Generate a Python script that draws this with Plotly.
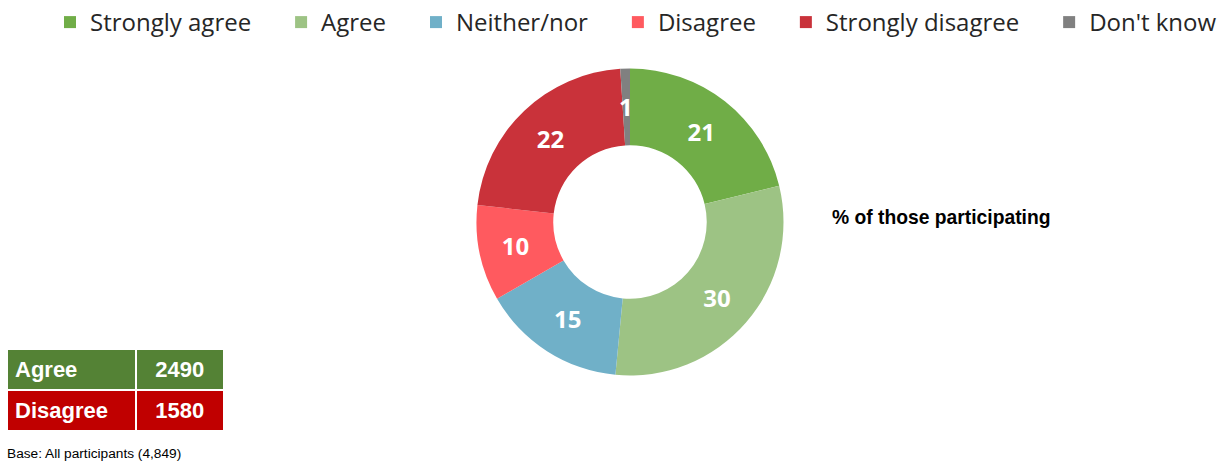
import math
import plotly.graph_objects as go

labels = ["Strongly agree", "Agree", "Neither/nor", "Disagree", "Strongly disagree", "Don't know"]
values = [21, 30, 15, 10, 22, 1]
colors = ["#70AD47", "#9DC384", "#70B0C8", "#FF5A5F", "#C9323A", "#808080"]

table_labels = ["Agree", "Disagree"]
table_values = ["2490", "1580"]
table_colors = ["#548235", "#C00000"]

W, H = 1222, 466
cx, cy, r = 630, 222, 153.5
hole = 0.5
pad = "\u00a0" * 4  # extra spacing between legend entries
legend_labels = [l + pad for l in labels[:-1]] + [labels[-1]]

# slices too thin for plotly to place text well get their label added as an annotation
small = [v < 3 for v in values]
texttemplate = ["" if s else "%{value}" for s in small]

fig = go.Figure()
fig.add_trace(go.Pie(
    labels=legend_labels, values=values,
    marker=dict(colors=colors, line=dict(width=0)),
    hole=hole, sort=False, direction="clockwise", rotation=0,
    texttemplate=texttemplate, textposition="inside", insidetextorientation="horizontal",
    textfont=dict(family="Open Sans", size=24, color="white", weight="bold"),
    domain=dict(x=[(cx - r) / W, (cx + r) / W], y=[(H - cy - r) / H, (H - cy + r) / H]),
    customdata=labels,
    hovertemplate="%{customdata}: %{value}<extra></extra>",
))

total = sum(values)
cum = 0
for v, s in zip(values, small):
    mid = (cum + v / 2) / total * 2 * math.pi
    cum += v
    if s:
        rr = r * (1 + hole) / 2
        fig.add_annotation(text=f"<b>{v}</b>", x=(cx + rr * math.sin(mid)) / W,
                           y=(H - cy + rr * math.cos(mid)) / H, xref="paper", yref="paper",
                           showarrow=False, xanchor="center", yanchor="middle",
                           font=dict(family="Open Sans", size=24, color="white"))

fig.add_trace(go.Table(
    domain=dict(x=[7 / W, 224 / W], y=[(H - 432) / H, (H - 349) / H]),
    columnwidth=[128, 88],
    header=dict(values=["<b>" + table_labels[0] + "</b>", "<b>" + table_values[0] + "</b>"],
                fill_color=table_colors[0], line=dict(color="white", width=2),
                align=["left", "center"], height=40,
                font=dict(family="Liberation Sans, Arial", size=22, color="white")),
    cells=dict(values=[["<b>" + table_labels[1] + "</b>"], ["<b>" + table_values[1] + "</b>"]],
               fill_color=table_colors[1], line=dict(color="white", width=2),
               align=["left", "center"], height=40,
               font=dict(family="Liberation Sans, Arial", size=22, color="white")),
))

fig.add_annotation(text="<b>% of those participating</b>", x=830 / W, y=(H - 217) / H,
                   xref="paper", yref="paper", xanchor="left", yanchor="middle", showarrow=False,
                   font=dict(family="Liberation Sans, Arial", size=19.3, color="black"))
fig.add_annotation(text="Base: All participants (4,849)", x=5 / W, y=(H - 453) / H,
                   xref="paper", yref="paper", xanchor="left", yanchor="middle", showarrow=False,
                   font=dict(family="Liberation Sans, Arial", size=13.7, color="black"))

fig.update_layout(
    width=W, height=H, margin=dict(l=0, r=0, t=0, b=0),
    paper_bgcolor="white", plot_bgcolor="white",
    uniformtext=dict(minsize=24, mode="show"),
    legend=dict(orientation="h", x=57 / W, y=1, xanchor="left", yanchor="top",
                font=dict(family="Open Sans", size=24, color="#262626"),
                traceorder="normal", itemclick=False, itemdoubleclick=False),
)
fig.write_html("out.html", config={"displayModeBar": False},
               post_script="document.body.style.margin='0';document.body.style.overflow='hidden';")
